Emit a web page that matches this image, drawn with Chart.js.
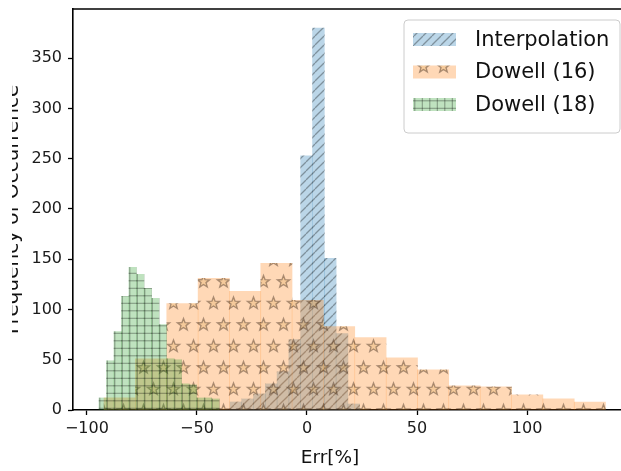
<!DOCTYPE html>
<html lang="en">
<head>
<meta charset="UTF-8">
<title>Err histogram</title>
<script src="https://cdn.jsdelivr.net/npm/chart.js"></script>
<style>
  html, body { margin: 0; padding: 0; overflow: hidden; background: #fff; }
  #wrap { width: 640px; height: 471px; }
</style>
</head>
<body>
<div id="wrap"><canvas id="histChart" width="640" height="471"></canvas></div>
<script>
// series names as in the legend
const seriesLabels = ["Interpolation", "Dowell (16)", "Dowell (18)"];

// bin edges (Err[%]) and counts
const interpEdges = [-35.0, -29.7, -24.3, -18.9, -13.6, -8.2, -2.9, 2.5, 7.9, 13.2, 18.6, 23.9];
const interpCounts = [8, 11, 16, 26, 38, 70, 253, 380, 151, 76, 6];

const dowell16Edges = [-92.2, -78.0, -63.7, -49.5, -35.2, -21.0, -6.8, 7.5, 21.7, 36.0, 50.2, 64.4, 78.7, 92.9, 107.2, 121.4, 135.6];
const dowell16Counts = [12, 51, 106, 131, 118, 146, 109, 83, 72, 52, 40, 24, 23, 15, 11, 8];

const dowell18Edges = [-94.5, -91.1, -87.7, -84.3, -80.9, -77.5, -74.0, -70.6, -67.2, -63.8, -60.4, -57.0, -53.6, -50.2, -46.7, -43.3, -39.9];
const dowell18Counts = [12, 49, 78, 113, 142, 135, 121, 111, 85, 51, 50, 26, 25, 12, 12, 11];

const xTicks = [-100, -50, 0, 50, 100];
const yTicks = [0, 50, 100, 150, 200, 250, 300, 350];
const xRange = [-106.3, 147.2];
const yRange = [0, 399];

const FONT = "'DejaVu Sans', sans-serif";
const ctx = document.getElementById("histChart").getContext("2d");

function makePattern(w, h, fill, draw) {
    const c = document.createElement("canvas");
    c.width = w; c.height = h;
    const g = c.getContext("2d");
    g.fillStyle = fill;
    g.fillRect(0, 0, w, h);
    draw(g, w, h);
    return ctx.createPattern(c, "repeat");
}

function star(g, cx, cy, R) {
    g.beginPath();
    for (let i = 0; i < 10; i++) {
        const r = i % 2 ? R * 0.42 : R;
        const a = -Math.PI / 2 + i * Math.PI / 5;
        g.lineTo(cx + r * Math.cos(a), cy + r * Math.sin(a));
    }
    g.closePath();
    g.fill();
    g.stroke();
}

const blueHatch = makePattern(9, 9, "rgba(31,119,180,0.3)", (g, w, h) => {
    g.strokeStyle = "rgba(0,0,0,0.32)";
    g.lineWidth = 1.3;
    for (let k = -1; k <= 1; k++) {
        g.beginPath();
        g.moveTo(k * w, h);
        g.lineTo(k * w + w, 0);
        g.stroke();
    }
});

const orangeStars = makePattern(20, 43, "rgba(255,127,14,0.3)", (g, w, h) => {
    g.strokeStyle = "rgba(60,40,30,0.42)";
    g.fillStyle = "rgba(215,160,70,0.25)";
    g.lineWidth = 1.4;
    const pts = [[13.5, 2.3], [3.5, 23.8]];
    pts.forEach(([x, y]) => {
        for (let i = -1; i <= 1; i++)
            for (let j = -1; j <= 1; j++) star(g, x + i * w, y + j * h, 6.4);
    });
});

const greenGrid = makePattern(15, 15, "rgba(44,160,44,0.3)", (g, w, h) => {
    g.strokeStyle = "rgba(0,0,0,0.32)";
    g.lineWidth = 1.1;
    [2.3, 9.8].forEach(x => { g.beginPath(); g.moveTo(x, 0); g.lineTo(x, h); g.stroke(); });
    [3.3, 10.8].forEach(y => { g.beginPath(); g.moveTo(0, y); g.lineTo(w, y); g.stroke(); });
});

function toBars(edges, counts) {
    return counts.map((c, i) => ({ x: (edges[i] + edges[i + 1]) / 2, y: c }));
}

function noPad(s) {
    s.paddingTop = 0; s.paddingBottom = 0; s.paddingLeft = 0; s.paddingRight = 0;
}

function xAxis(show) {
    return {
        type: "linear",
        display: show,
        min: xRange[0],
        max: xRange[1],
        offset: false,
        afterBuildTicks: s => { s.ticks = xTicks.map(v => ({ value: v })); },
        afterFit: s => { noPad(s); if (show) s.height = 61; },
        grid: { display: true, offset: false, drawOnChartArea: false, drawTicks: true, tickLength: 5, tickWidth: 1.3, tickColor: "#000" },
        border: { display: true, color: "#000", width: 1.6 },
        ticks: {
            padding: 4,
            color: "#1a1a1a",
            font: { family: FONT, size: 16 },
            callback: v => String(v).replace("-", "\u2212")
        }
    };
}

const frame = {
    id: "frame",
    afterDraw(chart) {
        const g = chart.ctx;
        const a = chart.chartArea;
        g.save();
        // top spine
        g.strokeStyle = "#000";
        g.lineWidth = 1.6;
        g.beginPath();
        g.moveTo(a.left - 0.8, a.top);
        g.lineTo(a.right, a.top);
        g.stroke();

        // axis titles
        g.fillStyle = "#111";
        g.font = "18.5px " + FONT;
        g.textAlign = "center";
        g.textBaseline = "alphabetic";
        g.fillText("Err[%]", 330, 463);

        g.save();
        g.beginPath();
        g.rect(12, 0, 60, chart.height);
        g.clip();
        g.translate(18, (a.top + a.bottom) / 2);
        g.rotate(-Math.PI / 2);
        g.font = "20px " + FONT;
        g.fillText("Frequency of Occurrence", 0, 0);
        g.restore();

        // legend
        const lx = 404, ly = 20, lw = 216, lh = 113, r = 4;
        g.beginPath();
        g.roundRect(lx, ly, lw, lh, r);
        g.fillStyle = "rgba(255,255,255,0.8)";
        g.fill();
        g.strokeStyle = "#cccccc";
        g.lineWidth = 1;
        g.stroke();

        g.font = "21px " + FONT;
        g.textAlign = "left";
        g.textBaseline = "middle";
        chart.data.datasets.forEach((ds, i) => {
            const cy = 39.5 + i * 32.5;
            g.fillStyle = ds.backgroundColor;
            g.fillRect(413, cy - 6.5, 43, 13);
            g.fillStyle = "#111";
            g.fillText(ds.label, 475, cy + 1);
        });
        g.restore();
    }
};

new Chart(ctx, {
    type: "bar",
    data: {
        datasets: [
            { label: seriesLabels[0], data: toBars(interpEdges, interpCounts), xAxisID: "x", backgroundColor: blueHatch, order: 3 },
            { label: seriesLabels[1], data: toBars(dowell16Edges, dowell16Counts), xAxisID: "x2", backgroundColor: orangeStars, order: 2 },
            { label: seriesLabels[2], data: toBars(dowell18Edges, dowell18Counts), xAxisID: "x3", backgroundColor: greenGrid, order: 1 }
        ]
    },
    options: {
        responsive: false,
        animation: false,
        grouped: false,
        barPercentage: 1,
        categoryPercentage: 1,
        borderWidth: 0,
        layout: { padding: { top: 9, right: 9, left: 0, bottom: 0 } },
        plugins: { legend: { display: false }, tooltip: { enabled: false } },
        scales: {
            x: xAxis(true),
            x2: xAxis(false),
            x3: xAxis(false),
            y: {
                type: "linear",
                min: yRange[0],
                max: yRange[1],
                afterBuildTicks: s => { s.ticks = yTicks.map(v => ({ value: v })); },
                afterFit: s => { noPad(s); s.width = 73; },
                grid: { display: true, drawOnChartArea: false, drawTicks: true, tickLength: 5, tickWidth: 1.3, tickColor: "#000" },
                border: { display: true, color: "#000", width: 1.6 },
                ticks: { padding: 6, color: "#1a1a1a", font: { family: FONT, size: 16 } }
            }
        }
    },
    plugins: [frame]
});
</script>
</body>
</html>
